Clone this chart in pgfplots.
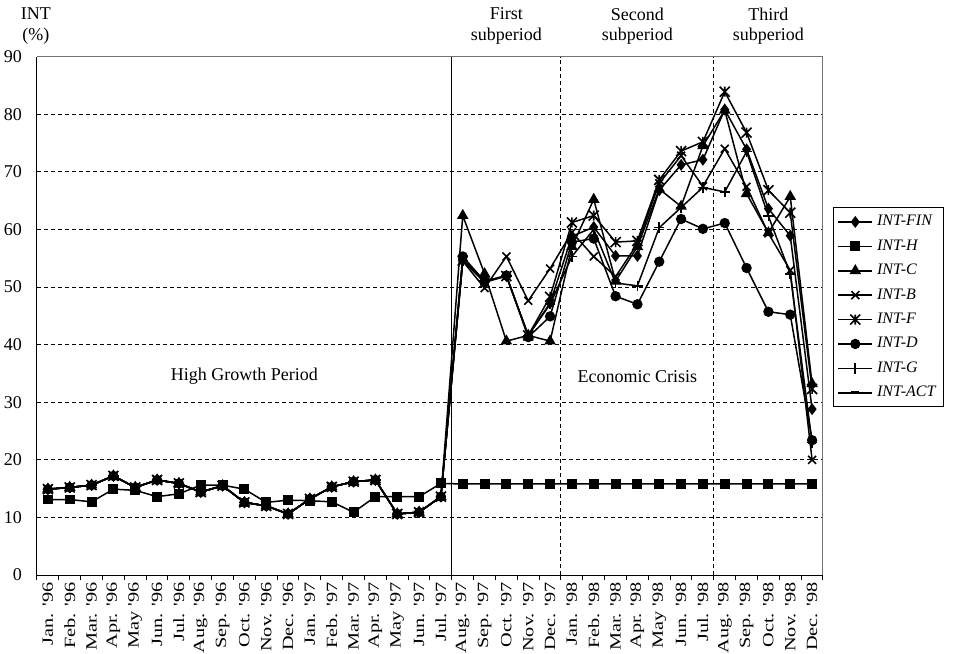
\documentclass[border=0pt]{standalone}
\usepackage{fontspec}
\setmainfont{Liberation Serif}
\newfontfamily\tickfont[FakeStretch=1.3]{Liberation Serif}
\usepackage{pgfplots}
\pgfplotsset{compat=1.18}
\usepackage{pgfplotstable}

\pgfdeclareplotmark{xstar}{%
  \pgfpathmoveto{\pgfqpoint{-\pgfplotmarksize}{-\pgfplotmarksize}}%
  \pgfpathlineto{\pgfqpoint{\pgfplotmarksize}{\pgfplotmarksize}}%
  \pgfpathmoveto{\pgfqpoint{-\pgfplotmarksize}{\pgfplotmarksize}}%
  \pgfpathlineto{\pgfqpoint{\pgfplotmarksize}{-\pgfplotmarksize}}%
  \pgfpathmoveto{\pgfqpoint{0pt}{-\pgfplotmarksize}}%
  \pgfpathlineto{\pgfqpoint{0pt}{\pgfplotmarksize}}%
  \pgfusepathqstroke}

\pgfplotstableread{
idx FIN H C B F D G ACT
0  14.9 13.1 14.9 14.9 14.9 14.9 14.9 14.9
1  15.2 13.1 15.2 15.2 15.2 15.2 15.2 15.2
2  15.6 12.7 15.6 15.6 15.6 15.6 15.6 15.6
3  17.2 14.9 17.2 17.2 17.2 17.2 17.2 17.2
4  15.2 14.7 15.2 15.2 15.2 15.2 15.2 15.2
5  16.5 13.6 16.5 16.5 16.5 16.5 16.5 16.5
6  15.9 14.1 15.9 15.9 15.9 15.9 15.9 15.9
7  14.4 15.6 14.4 14.4 14.4 14.4 14.4 14.4
8  15.5 15.6 15.5 15.5 15.5 15.5 15.5 15.5
9  12.6 14.9 12.6 12.6 12.6 12.6 12.6 12.6
10 12.0 12.6 12.0 12.0 12.0 12.0 12.0 12.0
11 10.6 13.0 10.6 10.6 10.6 10.6 10.6 10.6
12 13.2 12.9 13.2 13.2 13.2 13.2 13.2 13.2
13 15.3 12.7 15.3 15.3 15.3 15.3 15.3 15.3
14 16.2 10.9 16.2 16.2 16.2 16.2 16.2 16.2
15 16.5 13.6 16.5 16.5 16.5 16.5 16.5 16.5
16 10.6 13.6 10.6 10.6 10.6 10.6 10.6 10.6
17 10.9 13.6 10.9 10.9 10.9 10.9 10.9 10.9
18 13.6 15.9 13.6 13.6 13.6 13.6 13.6 13.6
19 54.8 15.8 62.4 54.5 54.6 55.3 54.6 nan
20 51.0 15.8 52.3 49.8 50.8 51.0 51.0 nan
21 51.9 15.8 40.6 55.3 51.9 52.0 51.9 nan
22 41.6 15.8 41.6 47.6 41.6 41.3 41.6 nan
23 47.2 15.8 40.6 53.2 48.3 44.9 47.0 nan
24 58.8 15.8 57.0 59.5 61.2 57.8 55.3 nan
25 60.4 15.8 65.2 55.3 62.4 58.4 60.0 nan
26 55.4 15.8 51.0 51.8 57.8 48.4 50.7 nan
27 55.4 15.8 57.0 57.5 58.0 47.0 50.2 nan
28 66.8 15.8 67.0 68.0 68.6 54.4 60.3 nan
29 71.2 15.8 64.0 72.8 73.6 61.8 63.8 nan
30 72.1 15.8 74.5 67.5 75.2 60.1 67.3 nan
31 80.8 15.8 80.7 74.0 83.9 61.1 66.5 nan
32 73.9 15.8 66.2 67.4 76.8 53.3 73.5 nan
33 63.6 15.8 59.4 59.3 66.8 45.7 62.3 nan
34 58.9 15.8 65.7 52.9 62.9 45.2 52.3 nan
35 28.8 15.8 33.2 20.0 32.3 23.4 23.0 nan
}\datatable

\begin{document}
\begin{tikzpicture}
\begin{axis}[
  at={(18.5pt,39.5pt)}, anchor=south west,
  width=393pt, height=259.2pt, scale only axis,
  xmin=-0.5, xmax=35.5, ymin=0, ymax=90,
  axis x line*=bottom, axis y line*=left,
  axis line style={black, line width=0.5pt},
  xtick={0,...,35},
  xticklabels={{Jan. '96},{Feb. '96},{Mar. '96},{Apr. '96},{May '96},{Jun. '96},{Jul. '96},{Aug. '96},{Sep. '96},{Oct. '96},{Nov. '96},{Dec. '96},
    {Jan. '97},{Feb. '97},{Mar. '97},{Apr. '97},{May '97},{Jun. '97},{Jul. '97},{Aug. '97},{Sep. '97},{Oct. '97},{Nov. '97},{Dec. '97},
    {Jan. '98},{Feb. '98},{Mar. '98},{Apr. '98},{May '98},{Jun. '98},{Jul. '98},{Aug. '98},{Sep. '98},{Oct. '98},{Nov. '98},{Dec. '98}},
  xticklabel style={rotate=90, anchor=east, inner xsep=3.5pt, font=\tickfont\fontsize{7.8}{9}\selectfont},
  major tick length=0pt,
  extra x ticks={-0.5,0.5,...,35.5},
  extra x tick labels={},
  extra x tick style={major tick length=2.5pt, tick align=outside, grid=none, tick style={black, line width=0.5pt}},
  ytick={0,10,...,90},
  yticklabel style={font=\fontsize{9}{11}\selectfont, xshift=-4pt},
  /pgf/number format/assume math mode=true,
  ymajorgrids,
  major grid style={black, dash pattern=on 2pt off 1.5pt, line width=0.45pt},
  clip=false,
  unbounded coords=jump,
  legend style={at={(1.0127,0.709)}, anchor=north west, draw=black, line width=0.5pt,
    font=\itshape\fontsize{8}{9}\selectfont, cells={anchor=west},
    row sep=4.2pt, inner xsep=2pt, inner ysep=3pt,
    nodes={inner ysep=0pt, text height=6pt, text depth=2pt}},
]
\addplot[black, line width=0.75pt, mark=diamond*, mark size=2.4pt, mark options={solid}] table[x=idx, y=FIN] {\datatable};
\addlegendentry{INT-FIN}
\addplot[black, line width=0.75pt, mark=square*, mark size=2.1pt, mark options={solid}] table[x=idx, y=H] {\datatable};
\addlegendentry{INT-H}
\addplot[black, line width=0.75pt, mark=triangle*, mark size=2.6pt, mark options={solid}] table[x=idx, y=C] {\datatable};
\addlegendentry{INT-C}
\addplot[black, line width=0.75pt, mark=x, mark size=2.8pt, mark options={solid, line width=0.8pt}] table[x=idx, y=B] {\datatable};
\addlegendentry{INT-B}
\addplot[black, line width=0.75pt, mark=xstar, mark size=2.5pt, mark options={solid, line width=0.8pt}] table[x=idx, y=F] {\datatable};
\addlegendentry{INT-F}
\addplot[black, line width=0.75pt, mark=*, mark size=2.2pt, mark options={solid}] table[x=idx, y=D] {\datatable};
\addlegendentry{INT-D}
\addplot[black, line width=0.75pt, mark=+, mark size=2.6pt, mark options={solid, line width=0.8pt}] table[x=idx, y=G] {\datatable};
\addlegendentry{INT-G}
\addplot[black, line width=0.75pt, mark=-, mark size=2pt, mark options={solid, line width=1.3pt}] table[x=idx, y=ACT] {\datatable};
\addlegendentry{INT-ACT}

\draw[black!55, line width=0.5pt] (axis cs:-0.5,90) -- (axis cs:35.5,90) -- (axis cs:35.5,0);
\draw[black, line width=0.5pt] (axis cs:18.5,0) -- (axis cs:18.5,90);
\draw[black, line width=0.5pt, dash pattern=on 2pt off 1.5pt] (axis cs:23.5,0) -- (axis cs:23.5,90);
\draw[black, line width=0.5pt, dash pattern=on 2pt off 1.5pt] (axis cs:30.5,0) -- (axis cs:30.5,90);

\node[font=\fontsize{9}{11}\selectfont] at (axis cs:9,34.5) {High Growth Period};
\node[font=\fontsize{9}{11}\selectfont] at (axis cs:27,34.5) {Economic Crisis};

\node[font=\fontsize{9}{11}\selectfont, yshift=21.3pt] at (axis cs:-0.55,90) {INT};
\node[font=\fontsize{9}{11}\selectfont, yshift=10.3pt] at (axis cs:-0.55,90) {(\%)};
\node[font=\fontsize{9}{11}\selectfont, yshift=21.3pt] at (axis cs:21,90) {First};
\node[font=\fontsize{9}{11}\selectfont, yshift=10.3pt] at (axis cs:21,90) {subperiod};
\node[font=\fontsize{9}{11}\selectfont, yshift=21.3pt] at (axis cs:27,90) {Second};
\node[font=\fontsize{9}{11}\selectfont, yshift=10.3pt] at (axis cs:27,90) {subperiod};
\node[font=\fontsize{9}{11}\selectfont, yshift=21.3pt] at (axis cs:33,90) {Third};
\node[font=\fontsize{9}{11}\selectfont, yshift=10.3pt] at (axis cs:33,90) {subperiod};
\end{axis}
\pgfresetboundingbox
\path[use as bounding box] (0,0) rectangle (480pt,327pt);
\end{tikzpicture}
\end{document}
